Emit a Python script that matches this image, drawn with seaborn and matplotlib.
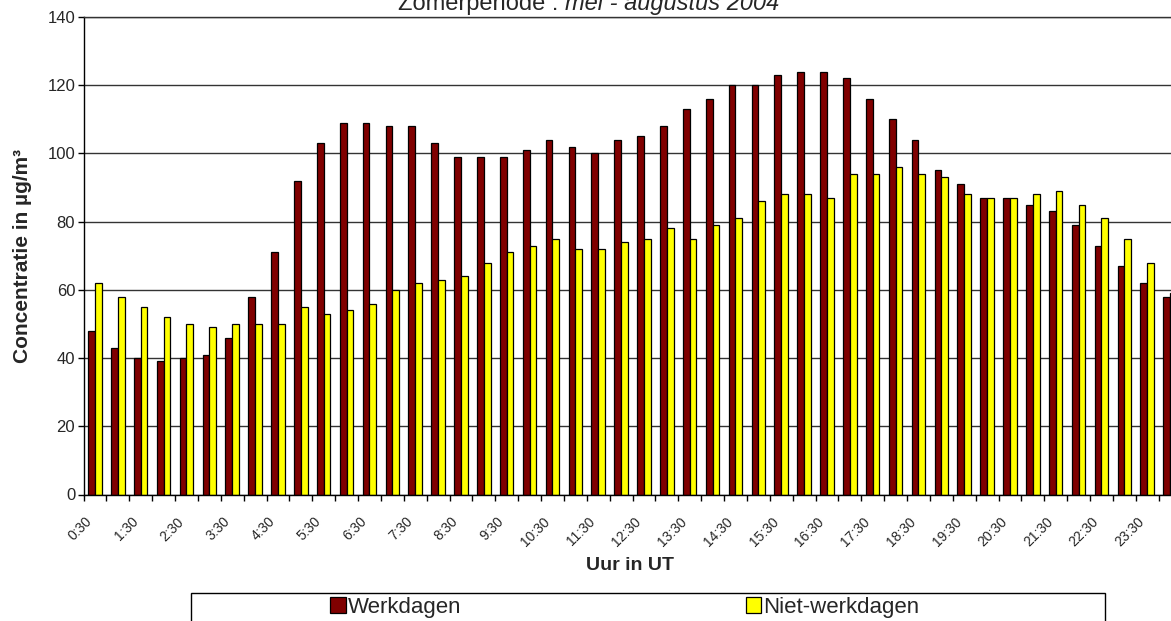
import matplotlib
matplotlib.use("Agg")
import matplotlib.pyplot as plt
import matplotlib.patches as mpatches
import matplotlib.transforms as mtransforms
import numpy as np
import pandas as pd
import seaborn as sns

# ==========================================
# Data
# ==========================================

uren = [
    "0:30", "1:00", "1:30", "2:00", "2:30", "3:00", "3:30", "4:00",
    "4:30", "5:00", "5:30", "6:00", "6:30", "7:00", "7:30", "8:00",
    "8:30", "9:00", "9:30", "10:00", "10:30", "11:00", "11:30", "12:00",
    "12:30", "13:00", "13:30", "14:00", "14:30", "15:00", "15:30", "16:00",
    "16:30", "17:00", "17:30", "18:00", "18:30", "19:00", "19:30", "20:00",
    "20:30", "21:00", "21:30", "22:00", "22:30", "23:00", "23:30", "24:00",
]

werkdagen = [
    48, 43, 40, 39, 40, 41, 46, 58, 71, 92,
    103, 109, 109, 108, 108, 103, 99, 99, 99, 101,
    104, 102, 100, 104, 105, 108, 113, 116, 120, 120,
    123, 124, 124, 122, 116, 110, 104, 95, 91, 87,
    87, 85, 83, 79, 73, 67, 62, 58,
]

niet_werkdagen = [
    62, 58, 55, 52, 50, 49, 50, 50, 50, 55,
    53, 54, 56, 60, 62, 63, 64, 68, 71, 73,
    75, 72, 72, 74, 75, 78, 75, 79, 81, 86,
    88, 88, 87, 94, 94, 96, 94, 93, 88, 87,
    87, 88, 89, 85, 81, 75, 68, 59,
]

reeksen = ["Werkdagen", "Niet-werkdagen"]
kleuren = ["#800000", "#FFFF00"]
y_ticks = [0, 20, 40, 60, 80, 100, 120, 140]

df = pd.DataFrame({
    "Uur": uren + uren,
    "Concentratie": werkdagen + niet_werkdagen,
    "Reeks": [reeksen[0]] * len(uren) + [reeksen[1]] * len(uren),
})

# ==========================================
# Style
# ==========================================

sns.set_style("white")
plt.rcParams["font.family"] = ["Liberation Sans", "DejaVu Sans"]

W, H = 1171, 621
fig = plt.figure(figsize=(W / 100, H / 100), dpi=100)

# plot area runs a bit past the right edge (cropped like the original)
ax = fig.add_axes([83.5 / W, 1 - 494.5 / H, 1098 / W, 477.5 / H])

sns.barplot(
    data=df,
    x="Uur",
    y="Concentratie",
    hue="Reeks",
    palette=kleuren,
    saturation=1,
    width=0.59,
    edgecolor="black",
    linewidth=0.9,
    ax=ax,
)

# ==========================================
# Axes
# ==========================================

ax.set_ylim(0, 140)
ax.set_xlim(-0.5, len(uren) - 0.5)
ax.set_yticks(y_ticks)
ax.yaxis.grid(True, color="#333333", linewidth=1)
ax.set_axisbelow(True)

ax.spines["right"].set_visible(False)
ax.spines["top"].set_color("#333333")
ax.spines["top"].set_linewidth(1)
for side in ["left", "bottom"]:
    ax.spines[side].set_color("black")
    ax.spines[side].set_linewidth(1)

ax.tick_params(axis="y", length=4, width=1, color="black",
               labelsize=12, pad=2, direction="out", left=True)

ax.set_xticks(range(0, len(uren), 2))
ax.set_xticklabels(uren[::2])
ax.set_xticks(np.arange(-0.5, len(uren), 1), minor=True)
ax.tick_params(axis="x", which="major", length=0, pad=18, labelsize=10)
ax.tick_params(axis="x", which="minor", length=4, width=1,
               color="black", direction="out", bottom=True)

shift = mtransforms.ScaledTranslation(-5 / 100, 0, fig.dpi_scale_trans)
for lbl in ax.get_xticklabels():
    lbl.set_rotation(45)
    lbl.set_ha("right")
    lbl.set_va("center")
    lbl.set_rotation_mode("anchor")
    lbl.set_transform(lbl.get_transform() + shift)

ax.set_xlabel("Uur in UT", fontsize=14, fontweight="bold")
ax.set_ylabel("Concentratie in µg/m³", fontsize=15, fontweight="bold")
ax.xaxis.set_label_coords(0.498, -0.13)
ax.yaxis.set_label_coords(-0.047, 0.5)

# ==========================================
# Title (top cut off as in the original)
# ==========================================

fig.text(558 / W, 1 - 10 / H, "Zomerperiode :", fontsize=17,
         ha="right", va="baseline")
fig.text(565 / W, 1 - 10 / H, "mei - augustus 2004", fontsize=17,
         fontstyle="italic", ha="left", va="baseline")

# ==========================================
# Legend
# ==========================================

handles, labels = ax.get_legend_handles_labels()
if ax.get_legend() is not None:
    ax.get_legend().remove()

fig.legend(
    handles,
    labels,
    ncol=2,
    loc="upper left",
    bbox_to_anchor=(330 / W, 1 - 597 / H),
    frameon=False,
    fontsize=16,
    handlelength=0.7,
    handleheight=0.7,
    handletextpad=0.1,
    columnspacing=12.8,
    borderpad=0,
    borderaxespad=0,
)

frame = mpatches.Rectangle(
    (190.5 / W, -0.1),
    (1105 - 190.5) / W,
    (H - 593) / H + 0.1,
    transform=fig.transFigure,
    fill=False,
    edgecolor="black",
    linewidth=1,
    clip_on=False,
)
fig.add_artist(frame)

fig.savefig("out.png", dpi=100)
